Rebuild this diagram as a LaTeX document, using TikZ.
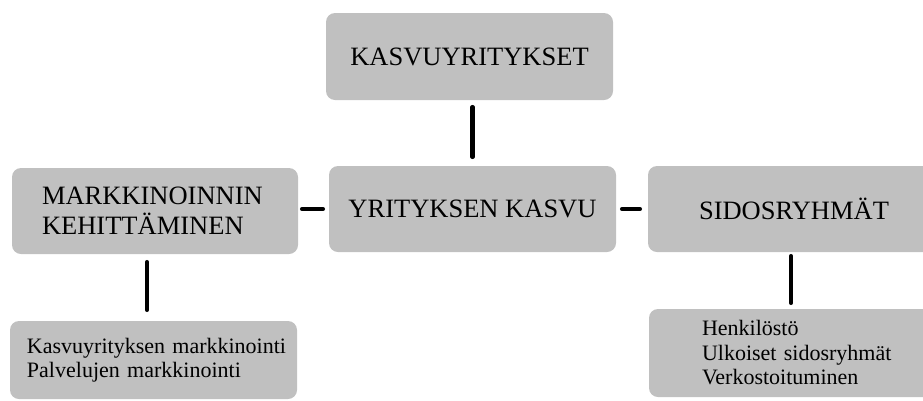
\documentclass[tikz,border=0pt]{standalone}
\usepackage{fontspec}
\setmainfont{Liberation Serif}
\definecolor{boxgray}{RGB}{192,192,192}
\begin{document}
\begin{tikzpicture}[x=1pt,y=-1pt,
  box/.style={fill=boxgray, rounded corners=9pt, inner sep=0pt},
  big/.style={font=\fontsize{26.5}{30}\selectfont},
  small/.style={font=\fontsize{22}{24.5}\selectfont},
  conn/.style={line width=4.5pt, line cap=round}]
\useasboundingbox (0,0) rectangle (923,400);
\clip (0,0) rectangle (923,400);
\node[box,big,minimum width=287,minimum height=87] (top) at (469.5,56.5) {KASVUYRITYKSET};
\node[box,big,minimum width=287,minimum height=86] (mid) at (472.5,209) {YRITYKSEN KASVU};
\node[box,big,minimum width=286,minimum height=86,text width=226,align=left] (mk) at (155,211) {MARKKINOINNIN\\KEHITTÄMINEN};
\node[box,big,minimum width=292,minimum height=86] (sid) at (794,209) {SIDOSRYHMÄT};
\node[box,small,minimum width=287,minimum height=78,text width=253,align=left] (bl) at (153.5,360) {\mbox{Kasvuyrityksen markkinointi}\\\mbox{Palvelujen markkinointi}};
\node[box,small,minimum width=291,minimum height=88,text width=185,align=left] (br) at (794.5,353) {\mbox{Henkilöstö}\\\mbox{Ulkoiset sidosryhmät}\\\mbox{Verkostoituminen}};
\draw[conn, shorten <=7, shorten >=9] (top.south -| mid.north) -- (mid.north);
\draw[conn, shorten <=4, shorten >=6] (mk.east |- mid.west) -- (mid.west);
\draw[conn, shorten <=6, shorten >=8] (mid.east) -- (sid.west);
\draw[conn, shorten <=8, shorten >=11] ([xshift=-8]mk.south) -- ([xshift=-8]mk.south |- bl.north);
\draw[conn, shorten <=4, shorten >=6] ([xshift=-3]sid.south) -- ([xshift=-3]sid.south |- br.north);
\end{tikzpicture}
\end{document}
